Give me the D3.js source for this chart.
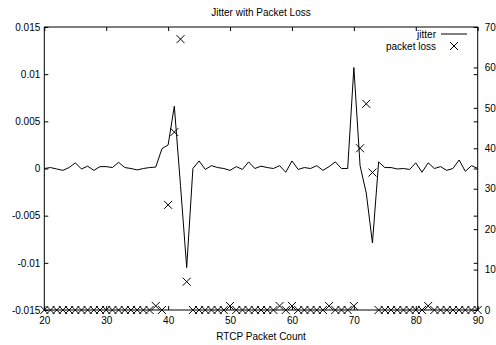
<!DOCTYPE html>
<html><head><meta charset="utf-8">
<script src="https://cdn.jsdelivr.net/npm/d3@7"></script>
<style>body{margin:0;background:#fff}svg{display:block}text{font-family:"Liberation Sans",Arial,sans-serif;font-size:10px;fill:#000}</style>
</head><body><div id="chart"></div>
<script>
const packetCount = [20,21,22,23,24,25,26,27,28,29,30,31,32,33,34,35,36,37,38,39,40,41,42,43,44,45,46,47,48,49,50,51,52,53,54,55,56,57,58,59,60,61,62,63,64,65,66,67,68,69,70,71,72,73,74,75,76,77,78,79,80,81,82,83,84,85,86,87,88,89,90];
const jitter = [0.0000,0.0001,-0.00005,-0.0002,0.0001,0.0006,-0.00005,0.00025,-0.0002,0.0002,
  0.0002,0.0001,0.00065,0.0001,0.0,-0.00015,0.0,0.0001,0.00015,0.0021,
  0.0025,0.0066,-0.0018,-0.0105,0.0,0.0008,-0.0001,0.0003,0.0001,0.0,
  -0.0002,0.0002,-0.0001,0.0007,0.0,0.00025,0.0001,0.0,0.0003,-0.0004,
  0.0008,-0.0001,0.0001,0.0,0.0003,-0.0002,0.0002,0.0007,0.0,0.0,
  0.0107,0.0003,-0.0026,-0.0079,0.0007,0.0001,0.0001,-0.00005,0.0,-0.0001,
  0.0006,-0.0004,0.0006,0.0,0.0002,-0.0002,0.0,0.0009,-0.0003,0.0003,0.0];
const packetLoss = [0,0,0,0,0,0,0,0,0,0,
  0,0,0,0,0,0,0,0,1,0,
  26,44,67,7,0,0,0,0,0,0,
  1,0,0,0,0,0,0,0,1,0,
  1,0,0,0,0,0,1,0,0,0,
  1,40,51,34,0,0,0,0,0,0,
  0,0,1,0,0,0,0,0,0,0,0];
const xTicks = [20,30,40,50,60,70,80,90];
const yTicks = [-0.015,-0.01,-0.005,0,0.005,0.01,0.015];
const y2Ticks = [0,10,20,30,40,50,60,70];
const yTickLabels = ["-0.015","-0.01","-0.005","0","0.005","0.01","0.015"];

const W=496,H=345, L=44.3, R=477.7, T=27, B=310;
const svg=d3.select("#chart").append("svg").attr("width",W).attr("height",H);
const x=d3.scaleLinear().domain([20,90]).range([L,R]);
const y=d3.scaleLinear().domain([-0.015,0.015]).range([B,T]);
const y2=d3.scaleLinear().domain([0,70]).range([B,T]);

const tl=4;
// left axis
const gL=svg.append("g").attr("transform",`translate(${L},0)`)
 .call(d3.axisLeft(y).tickValues(yTicks).tickSize(-tl).tickPadding(4).tickFormat((d,i)=>yTickLabels[i]));
// right mirrored left ticks
svg.append("g").attr("transform",`translate(${R},0)`)
 .call(d3.axisRight(y).tickValues(yTicks).tickSize(-tl).tickFormat(""));
// right axis y2
svg.append("g").attr("transform",`translate(${R},0)`)
 .call(d3.axisRight(y2).tickValues(y2Ticks).tickSize(-tl).tickPadding(7));
// bottom
svg.append("g").attr("transform",`translate(0,${B})`)
 .call(d3.axisBottom(x).tickValues(xTicks).tickSize(-tl).tickPadding(7));
// top mirrored
svg.append("g").attr("transform",`translate(0,${T})`)
 .call(d3.axisTop(x).tickValues(xTicks).tickSize(-tl).tickFormat(""));
svg.selectAll(".domain").remove();
svg.selectAll(".tick line").attr("stroke","#000");
svg.selectAll(".tick text").style("font-family",'"Liberation Sans",Arial,sans-serif').style("font-size","10px").attr("fill","#000");
// border
svg.append("rect").attr("x",L).attr("y",T).attr("width",R-L).attr("height",B-T)
 .attr("fill","none").attr("stroke","#000").attr("stroke-width",1);

// jitter line
const line=d3.line().x((d,i)=>x(packetCount[i])).y(d=>y(d));
svg.append("path").datum(jitter).attr("d",line).attr("fill","none").attr("stroke","#000").attr("stroke-width",1);

// packet loss crosses
const cs=4;
const crossPath=(cx,cy)=>`M${cx-cs},${cy-cs}L${cx+cs},${cy+cs}M${cx-cs},${cy+cs}L${cx+cs},${cy-cs}`;
svg.append("g").selectAll("path").data(packetLoss).join("path")
 .attr("d",(d,i)=>crossPath(x(packetCount[i]),y2(d)))
 .attr("stroke","#000").attr("stroke-width",1).attr("fill","none");

// title & labels
svg.append("text").attr("x",(L+R)/2).attr("y",16).attr("text-anchor","middle").text("Jitter with Packet Loss");
svg.append("text").attr("x",(L+R)/2).attr("y",340).attr("text-anchor","middle").text("RTCP Packet Count");

// legend
svg.append("text").attr("x",436).attr("y",37.5).attr("text-anchor","end").text("jitter");
svg.append("line").attr("x1",441).attr("x2",467).attr("y1",34).attr("y2",34).attr("stroke","#000");
svg.append("text").attr("x",436).attr("y",49.5).attr("text-anchor","end").text("packet loss");
svg.append("path").attr("d",crossPath(454,46)).attr("stroke","#000").attr("fill","none");
</script></body></html>
